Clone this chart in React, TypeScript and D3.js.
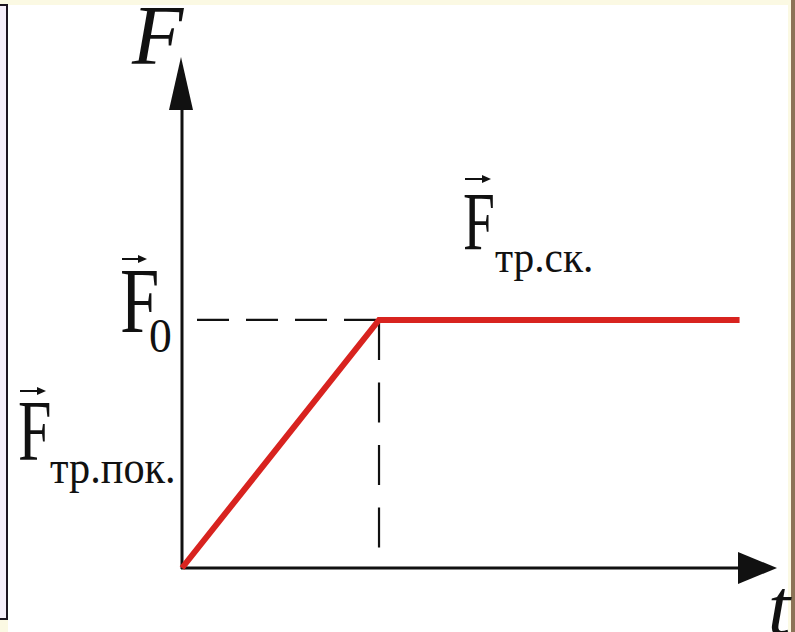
import * as d3 from "d3";

// friction force vs time: grows while at rest, then stays at the sliding value
const tPoints = [0, 1, 2.83];
const forceValues = [0, 1, 1];
const axisNames = ["F", "t"];
const levelLabel = "0";
const staticLabel = "тр.пок.";
const slidingLabel = "тр.ск.";

const width = 795;
const height = 632;
const serif = "'Liberation Serif', 'Times New Roman', serif";

function VecF({ x, y, size, sx, arrowY, arrowW, sub, subX, subY, subSize, subSx }) {
  return (
    <g fill="#111">
      <line x1={x + 2} x2={x + arrowW - 6} y1={arrowY} y2={arrowY} stroke="#111" strokeWidth={2} />
      <path d={`M${x + arrowW},${arrowY} L${x + arrowW - 9},${arrowY - 4} L${x + arrowW - 9},${arrowY + 4} Z`} />
      <text transform={`translate(${x},${y}) scale(${sx},1)`} fontFamily={serif} fontSize={size}>F</text>
      <text transform={`translate(${subX},${subY}) scale(${subSx},1)`} fontFamily={serif} fontSize={subSize}>{sub}</text>
    </g>
  );
}

export default function App() {
  const x = d3.scaleLinear().domain([0, 3.02]).range([182, 777]);
  const y = d3.scaleLinear().domain([0, 2.06]).range([568, 57]);

  const pts = tPoints.map((t, i) => [x(t), y(forceValues[i])]);
  const line = d3.line();

  const kx = x(tPoints[1]);
  const ky = y(forceValues[1]);
  const x0 = x(0);
  const y0 = y(0);
  const xEnd = x.range()[1];
  const yEnd = y.range()[1];

  return (
    <div style={{ position: "absolute", left: 0, top: 0, width, height }}>
      <svg width={width} height={height} style={{ display: "block" }}>
        <rect x={0} y={0} width={width} height={height} fill="#fbf9e3" />
        <rect x={8} y={5} width={780} height={height - 5} fill="#ffffff" />
        <rect x={-2} y={5} width={9} height={614} fill="#f5eefa" stroke="#1c1420" strokeWidth={2} />
        <rect x={791} y={0} width={4} height={height} fill="#8c7358" />

        {/* dashed guides to the knee */}
        <line x1={x0 + 15} x2={kx} y1={ky} y2={ky} stroke="#111" strokeWidth={2.2} strokeDasharray="32 17" />
        <line x1={kx} x2={kx} y1={ky} y2={y0 - 20} stroke="#111" strokeWidth={2.2} strokeDasharray="40 22.5" />

        {/* axes */}
        <line x1={x0} x2={x0} y1={y0 + 1} y2={yEnd + 50} stroke="#111" strokeWidth={3} />
        <path d={`M${x0 - 1},${yEnd} L${x0 - 13},${yEnd + 53} L${x0 + 11},${yEnd + 53} Z`} fill="#111" />
        <line x1={x0 - 1} x2={xEnd - 36} y1={y0} y2={y0} stroke="#111" strokeWidth={3} />
        <path d={`M${xEnd},${y0} L${xEnd - 39},${y0 - 16} L${xEnd - 39},${y0 + 16} Z`} fill="#111" />

        <path d={line(pts)} fill="none" stroke="#d8231f" strokeWidth={6} strokeLinejoin="miter" />

        <text x={132} y={64} fontFamily={serif} fontStyle="italic" fontSize={84} fill="#111">{axisNames[0]}</text>
        <text x={768} y={634} fontFamily={serif} fontStyle="italic" fontSize={80} fill="#111">{axisNames[1]}</text>

        <VecF x={120} y={332} size={93} sx={0.76} arrowY={259} arrowW={27} sub={levelLabel} subX={149} subY={352} subSize={48} subSx={0.95} />
        <VecF x={18} y={460} size={86} sx={0.7} arrowY={391} arrowW={28} sub={staticLabel} subX={50} subY={483} subSize={46} subSx={0.92} />
        <VecF x={463} y={249} size={82} sx={0.7} arrowY={179} arrowW={28} sub={slidingLabel} subX={495} subY={272} subSize={44} subSx={0.94} />
      </svg>
    </div>
  );
}
